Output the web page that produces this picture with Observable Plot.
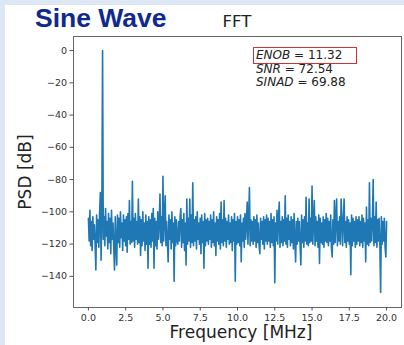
<!DOCTYPE html>
<html><head><meta charset="utf-8">
<script src="https://cdn.jsdelivr.net/npm/d3@7"></script>
<script src="https://cdn.jsdelivr.net/npm/@observablehq/plot@0.6"></script>
<style>
html,body{margin:0;padding:0;}
body{width:404px;height:345px;background:#dde7f3;position:relative;overflow:hidden;font-family:"DejaVu Sans",sans-serif;}
#panel{position:absolute;left:5px;top:5px;right:0;bottom:0;background:#fff;}
#chart{position:absolute;left:0;top:0;}
.t{position:absolute;white-space:nowrap;line-height:1;color:#222;}
#title{left:35px;top:4.8px;font-family:"Liberation Sans",Arial,sans-serif;font-weight:bold;font-size:26.5px;color:#10298f;}
#fft{left:237px;top:14px;font-size:16.5px;transform:translateX(-50%);}
#xlabel{left:241px;top:323.6px;font-size:17px;transform:translateX(-50%);}
#ylabel{left:25px;top:171.5px;font-size:17px;transform:translate(-50%,-50%) rotate(-90deg);}
#stats{position:absolute;left:256px;top:49px;font-size:12px;line-height:13.5px;color:#222;}
#stats i{font-style:italic;}
#box{position:absolute;left:253px;top:47px;width:102px;height:15px;border:1px solid #cc3333;}
</style></head><body>
<div id="panel"></div>
<div id="chart"></div>
<div id="box"></div>
<script>
// FFT bin spacing (MHz) and PSD values in dB
const binMHz = 0.05;
const psd = [
 -104,-118,-99,-121,-106,-124,-103,-117,-108,-120,-136,-102,-119,-105,-122,-101,-88,-130,-104,0,
 -117,-103,-121,-98,-115,-106,-123,-101,-119,-104,-126,-99,-117,-107,-122,-136,-103,-120,-133,-102,
 -119,-104,-122,-100,-116,-107,-124,-102,-118,-105,-121,-103,-125,-101,-117,-93,-120,-106,-119,-81,
 -118,-104,-122,-101,-117,-106,-120,-92,-119,-103,-127,-105,-121,-100,-118,-107,-124,-102,-120,-106,
 -135,-103,-120,-105,-122,-101,-118,-98,-135,-104,-121,-106,-123,-100,-117,-107,-89,-119,-103,-121,
 -78,-118,-104,-90,-121,-106,-119,-131,-102,-117,-105,-123,-100,-119,-107,-143,-103,-121,-105,-118,
 -120,-106,-118,-103,-98,-122,-105,-119,-101,-124,-107,-133,-92,-120,-104,-118,-92,-122,-102,-119,
 -82,-121,-105,-118,-103,-123,-100,-117,-107,-120,-104,-126,-102,-119,-106,-135,-101,-121,-105,-118,
 -104,-120,-106,-117,-102,-122,-105,-119,-100,-121,-107,-127,-103,-118,-105,-120,-101,-123,-94,-119,
 -105,-121,-93,-118,-104,-122,-106,-117,-102,-120,-107,-119,-103,-124,-105,-118,-101,-143,-106,-120,
 -103,-119,-105,-121,-102,-131,-107,-118,-104,-122,-101,-117,-106,-94,-120,-103,-85,-121,-105,-118,
 -106,-120,-103,-118,-105,-122,-102,-119,-107,-121,-126,-104,-117,-106,-120,-103,-123,-105,-118,-102,
 -120,-104,-118,-106,-122,-101,-119,-105,-121,-103,-144,-107,-118,-99,-120,-104,-94,-122,-106,-119,
 -103,-121,-105,-118,-90,-120,-104,-122,-102,-117,-106,-121,-103,-119,-105,-123,-101,-118,-131,-106,
 -120,-104,-118,-106,-121,-133,-102,-119,-105,-122,-103,-118,-91,-120,-107,-121,-92,-119,-104,-118,
 -84,-120,-105,-93,-121,-103,-118,-106,-122,-102,-132,-104,-119,-107,-120,-103,-122,-105,-118,-101,
 -119,-104,-121,-106,-118,-102,-122,-128,-105,-120,-93,-119,-104,-92,-121,-106,-118,-103,-120,-92,
 -104,-121,-105,-92,-119,-106,-122,-103,-118,-105,-120,-107,-139,-102,-121,-104,-118,-106,-122,-103,
 -120,-105,-118,-103,-121,-106,-119,-102,-122,-104,-118,-107,-131,-97,-120,-105,-121,-82,-119,-104,
 -118,-106,-80,-121,-103,-119,-94,-122,-105,-118,-104,-121,-150,-103,-120,-106,-118,-104,-122,-128,
 -106
];
const xTicks = [0, 2.5, 5, 7.5, 10, 12.5, 15, 17.5, 20];
const yTicks = [0, -20, -40, -60, -80, -100, -120, -140];
const statNames = ["ENOB", "SNR", "SINAD"];
const statValues = ["11.32", "72.54", "69.88"];
const titleText = "Sine Wave";
const plotTitle = "FFT";
const xLabel = "Frequency [MHz]";
const yLabel = "PSD [dB]";

const data = psd.map((v, i) => ({f: i * binMHz, psd: v}));

const chart = Plot.plot({
  width: 404, height: 345,
  marginLeft: 73, marginRight: 3, marginTop: 36, marginBottom: 38,
  style: {background: "transparent", fontFamily: "DejaVu Sans", fontSize: "9.5px", color: "#333", overflow: "visible"},
  x: {domain: [-1, 21]},
  y: {domain: [-159.3, 8.7]},
  marks: [
    Plot.line(data, {x: "f", y: "psd", stroke: "#1f77b4", strokeWidth: 1.6}),
    Plot.frame({stroke: "#666"}),
    Plot.axisX({ticks: xTicks, tickFormat: d3.format(".1f"), tickSize: 3.5, tickPadding: 3, label: null, stroke: "#555", fill: "#333"}),
    Plot.axisY({ticks: yTicks, tickFormat: d3.format("d"), tickSize: 3.5, tickPadding: 3, label: null, stroke: "#555", fill: "#333"})
  ]
});
document.getElementById("chart").appendChild(chart);

function addText(id, txt) {
  const d = document.createElement("div");
  d.className = "t"; d.id = id; d.textContent = txt;
  document.body.appendChild(d);
}
addText("title", titleText);
addText("fft", plotTitle);
addText("xlabel", xLabel);
addText("ylabel", yLabel);
const st = document.createElement("div");
st.id = "stats";
st.innerHTML = statNames.map((n, i) => `<div><i>${n}</i> = ${statValues[i]}</div>`).join("");
document.body.appendChild(st);
</script>
</body></html>
